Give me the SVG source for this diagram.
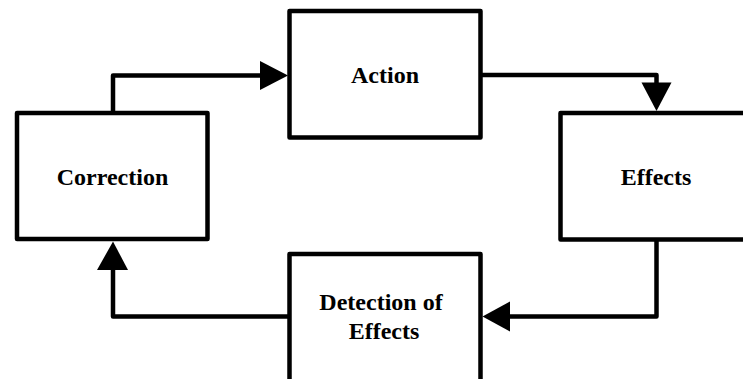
<svg xmlns="http://www.w3.org/2000/svg" width="743" height="379" viewBox="0 0 743 379">
<style>
.box{fill:#fff;stroke:#000;stroke-width:4.5;stroke-linejoin:round}
.lbl{font-family:"Liberation Serif","Times New Roman",serif;font-weight:bold;font-size:24px;fill:#000;text-anchor:middle}
.conn{fill:none;stroke:#000;stroke-width:4.5;stroke-linejoin:round}
.head{fill:#000;stroke:none}
</style>
<rect width="743" height="379" fill="#fff"/>
<g id="connectors">
<path class="conn" d="M113,113 V75.5 H262"/>
<polygon class="head" points="260,61 288,75.5 260,90"/>
<path class="conn" d="M480.5,75 H656.5 V84"/>
<polygon class="head" points="641.5,82.5 656.5,111 671.5,82.5"/>
<path class="conn" d="M656.5,239.5 V316.5 H508"/>
<polygon class="head" points="510,301.5 482.5,316.5 510,331.5"/>
<path class="conn" d="M289.5,316.5 H113 V268"/>
<polygon class="head" points="97,270 113,241.5 128,270"/>
</g>
<g id="action">
<rect class="box" x="289.5" y="11" width="191" height="126.5"/>
<text class="lbl" x="385" y="83">Action</text>
</g>
<g id="correction">
<rect class="box" x="17" y="113" width="190.5" height="126"/>
<text class="lbl" x="112.5" y="185">Correction</text>
</g>
<g id="effects">
<rect class="box" x="560.5" y="113" width="191" height="126.5"/>
<text class="lbl" x="656" y="184.5">Effects</text>
</g>
<g id="detection">
<rect class="box" x="289.5" y="254" width="191" height="128"/>
<text class="lbl" x="381" y="309.5">Detection of</text>
<text class="lbl" x="384" y="338.5">Effects</text>
</g>
</svg>
